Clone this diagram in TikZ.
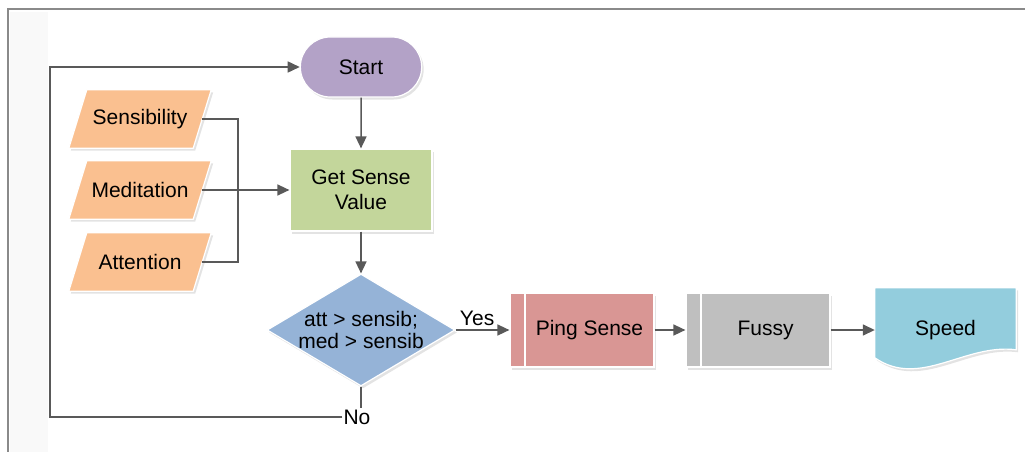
\documentclass[tikz,border=0pt]{standalone}
\usepackage{fontspec}
\setmainfont{Liberation Sans}
\usetikzlibrary{shapes.misc,shapes.geometric,arrows.meta,shadows,backgrounds,calc}

\definecolor{startcol}{HTML}{B3A2C7}
\definecolor{getcol}{HTML}{C3D69B}
\definecolor{inputcol}{HTML}{FAC090}
\definecolor{deccol}{HTML}{95B3D7}
\definecolor{pingcol}{HTML}{D99694}
\definecolor{fussycol}{HTML}{BFBFBF}
\definecolor{speedcol}{HTML}{93CDDD}
\definecolor{linecol}{HTML}{595959}
\definecolor{framecol}{HTML}{8A8A8A}

\tikzset{
  txt/.style={font=\fontsize{21}{24.5}\selectfont, text=black, align=center},
  shaded/.style={draw=white, line width=1.2pt,
    drop shadow={opacity=0.22, shadow xshift=2pt, shadow yshift=-2.5pt}},
  terminal/.style={txt, shaded, rounded rectangle, fill=startcol,
    minimum width=128pt, minimum height=60pt},
  procbox/.style={txt, shaded, rectangle, minimum width=142pt, minimum height=82pt},
  inputtext/.style={txt, rectangle, inner sep=0pt,
    minimum width=124pt, minimum height=58pt},
  decision/.style={shaded, diamond, fill=deccol, inner sep=0pt,
    minimum width=188pt, minimum height=112pt},
  barbox/.style={txt, shaded, rectangle, minimum width=144pt, minimum height=74pt,
    path picture={\draw[white, line width=1.6pt]
      ([xshift=15pt]path picture bounding box.north west) --
      ([xshift=15pt]path picture bounding box.south west);}},
  link/.style={draw=linecol, line width=1.5pt},
  flow/.style={link, -{Triangle[length=12pt, width=11pt]}}
}

% data (input) parallelogram: text node plus a slanted outline behind it
\newcommand\datanode[3]{%
  \node[inputtext] (#1) at (#2) {#3};
  \begin{scope}[on background layer]
    \path[shaded, fill=inputcol]
      ($(#1.north west)+(9,0)$) -- ($(#1.north east)+(9,0)$) --
      ($(#1.south east)+(-9,0)$) -- ($(#1.south west)+(-9,0)$) -- cycle;
  \end{scope}}

\begin{document}
\begin{tikzpicture}[x=1pt, y=-1pt]
  \useasboundingbox (0,0) rectangle (1025,452);

  % page frame and side strip
  \fill[gray!5] (10,12) rectangle (48,452);
  \draw[framecol, line width=1.3pt] (8,452) -- (8,9) -- (1025,9);

  % main column
  \node[terminal] (start) at (361,67) {Start};
  \node[procbox, fill=getcol] (get) at (361,190) {Get Sense\\Value};
  \node[decision] (dec) at (361,330) {};
  \node[txt, font=\fontsize{21}{22.5}\selectfont] (dectext) at (dec) {att > sensib;\\med > sensib};

  % inputs
  \datanode{sens}{140,119}{Sensibility}
  \datanode{med}{140,190}{Meditation}
  \datanode{att}{140,262}{Attention}
  \coordinate (bus) at (238,190);

  % right-hand chain
  \node[barbox, fill=pingcol] (ping) at (582,330) {\hspace*{15pt}Ping Sense};
  \node[barbox, fill=fussycol] (fussy) at (758,330) {\hspace*{15pt}Fussy};
  \node[txt, inner sep=0pt, minimum width=141pt, minimum height=84pt] (speed) at (945.5,330) {Speed};
  \begin{scope}[on background layer]
    \path[shaded, fill=speedcol]
      (speed.north west) -- (speed.north east)
      -- ($(speed.north east)+(0,62)$)
      .. controls (965,343) and (920,389) ..
      ($(speed.north west)+(0,70)$) -- cycle;
  \end{scope}

  % loop-back label
  \node[txt, inner sep=1pt] (no) at (357,417) {No};
  \coordinate (loopx) at (50,0);

  % connectors
  \draw[flow] (start) -- (get);
  \draw[flow] (get) -- (dec);
  \draw[link] (sens.east) -| (bus) |- (att.east);
  \draw[flow] (med.east) -- (get.west);
  \draw[flow] (dec.east) -- node[txt, above, pos=0.4] (yes) {Yes} (ping.west);
  \draw[flow] (ping) -- (fussy);
  \draw[flow] (fussy) -- (speed.west);
  \draw[link] (dec.south) -- (dec.south |- no.north);
  \draw[flow] (no.west) -- (loopx |- no.west) -- (loopx |- start.west) -- (start.west);
\end{tikzpicture}
\end{document}
